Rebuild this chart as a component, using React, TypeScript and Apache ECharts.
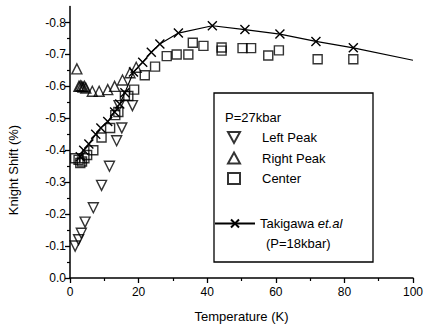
import React, { useEffect, useRef } from "react";
import * as echarts from "echarts";

// Left Peak (down triangles)
const leftPeakT = [1.5, 2.5, 3.3, 4.4, 6.8, 9.2, 11.5, 13.6, 15.1, 14.3, 18.2];
const leftPeakV = [-0.10, -0.12, -0.14, -0.175, -0.22, -0.29, -0.35, -0.43, -0.47, -0.54, -0.54];

// Right Peak (up triangles)
const rightPeakT = [2.0, 2.6, 3.0, 3.4, 3.8, 4.2, 4.6, 6.5, 8.5, 11.0, 13.0, 15.3, 17.5, 19.3];
const rightPeakV = [-0.655, -0.60, -0.602, -0.60, -0.598, -0.60, -0.595, -0.585, -0.585, -0.59, -0.60, -0.62, -0.643, -0.66];

// Center (squares)
const centerT = [1.5, 2.5, 3.0, 3.5, 4.2, 5.0, 6.8, 9.2, 11.7, 13.2, 14.1, 16.0, 17.0, 18.7, 21.8, 24.8, 28.2, 31.1, 34.5, 35.8, 38.9, 44.2, 44.2, 50.3, 52.8, 57.8, 60.9, 72.2, 82.6];
const centerV = [-0.375, -0.37, -0.36, -0.365, -0.375, -0.385, -0.40, -0.44, -0.47, -0.51, -0.52, -0.571, -0.57, -0.59, -0.635, -0.662, -0.695, -0.70, -0.70, -0.737, -0.727, -0.722, -0.712, -0.72, -0.72, -0.697, -0.713, -0.685, -0.685];

// Takigawa et al. (P=18kbar), line with x markers; last point is the line end (no marker)
const takiT = [3, 4, 5.5, 7.5, 9, 11, 13, 14.5, 16, 18.5, 21.2, 23.7, 26.2, 31.6, 41.5, 51, 61.2, 71.7, 82.6, 100];
const takiV = [-0.38, -0.40, -0.42, -0.45, -0.47, -0.49, -0.52, -0.545, -0.58, -0.645, -0.676, -0.707, -0.733, -0.767, -0.79, -0.778, -0.764, -0.741, -0.721, -0.682];

const yLabelValues = [0, -0.1, -0.2, -0.3, -0.4, -0.5, -0.6, -0.7, -0.8];
const yMinorValues = [-0.05, -0.15, -0.25, -0.35, -0.45, -0.55, -0.65, -0.75];

const INK = "#000";
const FONT = "'Liberation Sans', Arial, sans-serif";
const X_PATH = "path://M0,0L10,10M10,0L0,10";
const DOWN_TRI = "path://M0,0L10,0L5,9Z";

const zip = (a: number[], b: number[]) => a.map((t, i) => [t, b[i]]);

export default function App() {
  const ref = useRef<HTMLDivElement>(null);
  useEffect(() => {
    if (!ref.current) return;
    const chart = echarts.init(ref.current, undefined, { renderer: "svg" });
    const hollow = { color: "rgba(0,0,0,0)", borderColor: INK, borderWidth: 1.4 };
    const takiData: any[] = zip(takiT, takiV).map((p, i) =>
      i === takiT.length - 1 ? { value: p, symbol: "none" } : p
    );
    chart.setOption({
      animation: false,
      backgroundColor: "#fff",
      textStyle: { fontFamily: FONT },
      grid: { left: 70, right: 28, top: 6.6, bottom: 47, containLabel: false },
      xAxis: {
        type: "value",
        min: 0,
        max: 100,
        interval: 20,
        name: "Temperature (K)",
        nameLocation: "middle",
        nameGap: 32,
        nameTextStyle: { color: INK, fontSize: 13, fontFamily: FONT },
        axisLine: { lineStyle: { color: INK, width: 1.5 } },
        axisTick: { length: 5, lineStyle: { color: INK, width: 1.3 } },
        minorTick: { show: true, splitNumber: 2, length: 3, lineStyle: { color: INK, width: 1.2 } },
        axisLabel: { color: INK, fontSize: 12, margin: 8, fontFamily: FONT },
        splitLine: { show: false },
      },
      yAxis: [
        {
          type: "value",
          min: -0.85,
          max: 0,
          inverse: true,
          axisLine: { lineStyle: { color: INK, width: 1.5 } },
          axisTick: { length: 5, customValues: yLabelValues, lineStyle: { color: INK, width: 1.3 } },
          axisLabel: {
            color: INK,
            fontSize: 12,
            margin: 4,
            fontFamily: FONT,
            customValues: yLabelValues,
            formatter: (v: number) => (Math.abs(v) < 1e-9 ? "0.0" : v.toFixed(1)),
          },
          splitLine: { show: false },
        },
        {
          type: "value",
          min: -0.85,
          max: 0,
          inverse: true,
          position: "left",
          axisLine: { show: false },
          axisTick: { show: true, length: 3, customValues: yMinorValues, lineStyle: { color: INK, width: 1.2 } },
          axisLabel: { show: false },
          splitLine: { show: false },
        },
      ],
      legend: [
        {
          data: [{ name: "Left Peak", icon: DOWN_TRI }, "Right Peak", "Center"],
          orient: "vertical",
          left: 227,
          top: 131,
          padding: 0,
          itemWidth: 12,
          itemHeight: 11,
          itemGap: 7.5,
          textStyle: { color: INK, fontSize: 13, fontFamily: FONT, padding: [0, 0, 0, 17] },
        },
        {
          data: ["Takigawa"],
          orient: "vertical",
          left: 214,
          top: 217,
          padding: 0,
          itemWidth: 40,
          itemHeight: 10,
          formatter: () => "Takigawa {i|et.al}",
          textStyle: {
            color: INK,
            fontSize: 13,
            fontFamily: FONT,
            rich: { i: { fontStyle: "italic", fontSize: 13, color: INK, fontFamily: FONT } },
          },
        },
      ],
      graphic: [
        {
          type: "rect",
          shape: { x: 214, y: 93, width: 159, height: 169 },
          style: { fill: "none", stroke: INK, lineWidth: 1.3 },
        },
        {
          type: "text",
          x: 225,
          y: 117,
          style: { text: "P=27kbar", fill: INK, font: `13px ${FONT}`, textVerticalAlign: "middle" },
        },
        {
          type: "text",
          x: 266,
          y: 243,
          style: { text: "(P=18kbar)", fill: INK, font: `13px ${FONT}`, textVerticalAlign: "middle" },
        },
        {
          type: "text",
          x: 13,
          y: 170,
          rotation: Math.PI / 2,
          style: {
            text: "Knight Shift (%)",
            fill: INK,
            font: `13px ${FONT}`,
            textAlign: "center",
            textVerticalAlign: "middle",
          },
        },
      ],
      series: [
        {
          name: "Left Peak",
          type: "scatter",
          symbol: "triangle",
          symbolRotate: 180,
          symbolSize: 10,
          itemStyle: hollow,
          data: zip(leftPeakT, leftPeakV),
        },
        {
          name: "Right Peak",
          type: "scatter",
          symbol: "triangle",
          symbolSize: 10,
          itemStyle: hollow,
          data: zip(rightPeakT, rightPeakV),
        },
        {
          name: "Center",
          type: "scatter",
          symbol: "rect",
          symbolSize: 9,
          itemStyle: hollow,
          data: zip(centerT, centerV),
        },
        {
          name: "Takigawa",
          type: "line",
          symbol: X_PATH,
          symbolSize: 9,
          showAllSymbol: true,
          lineStyle: { color: INK, width: 1.2 },
          itemStyle: { color: INK, borderColor: INK, borderWidth: 1.4 },
          data: takiData,
          z: 3,
        },
      ],
    });
    return () => chart.dispose();
  }, []);
  return <div ref={ref} style={{ width: 441, height: 328, position: "absolute", left: 0, top: 0 }} />;
}
